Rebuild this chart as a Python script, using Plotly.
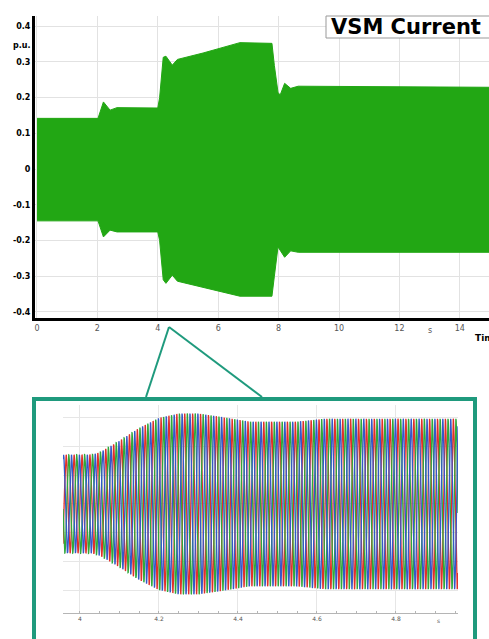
import numpy as np
import plotly.graph_objects as go

W, H = 489, 639

# ---- main chart: envelope of the three-phase VSM current (p.u.) ----
env_t = [0.0, 2.02, 2.2, 2.42, 2.65, 4.0, 4.06, 4.18, 4.27, 4.48, 4.65, 5.5, 6.72,
         7.78, 7.86, 7.98, 8.05, 8.2, 8.4, 8.65, 15.0]
env_upper = [0.142, 0.142, 0.188, 0.165, 0.172, 0.171, 0.20, 0.313, 0.316, 0.291, 0.307,
             0.325, 0.354, 0.352, 0.29, 0.215, 0.207, 0.24, 0.226, 0.232, 0.229]
env_lower = [-0.145, -0.145, -0.19, -0.171, -0.176, -0.176, -0.20, -0.31, -0.32, -0.297,
             -0.314, -0.33, -0.356, -0.356, -0.30, -0.218, -0.225, -0.247, -0.229, -0.233,
             -0.233]

main_xticks = [0, 2, 4, 6, 8, 10, 12, 14]
main_xticklabels = ["0", "2", "4", "6", "8", "10", "12", "14"]
main_yticks = [0.4, 0.3, 0.2, 0.1, 0, -0.1, -0.2, -0.3, -0.4]
main_yticklabels = ["0.4", "0.3", "0.2", "0.1", "0", "-0.1", "-0.2", "-0.3", "-0.4"]

# ---- zoomed inset: amplitude envelope of each phase ----
zoom_t = [3.957, 4.03, 4.05, 4.10, 4.15, 4.20, 4.25, 4.30, 4.35, 4.43, 4.55, 4.62, 4.957]
zoom_amp = [0.171, 0.172, 0.18, 0.22, 0.265, 0.30, 0.315, 0.315, 0.305, 0.287, 0.287,
            0.297, 0.297]
grid_freq_hz = 50.0
phase_names = ["Ia", "Ib", "Ic"]
phase_shift_deg = [0, -120, 120]
phase_colors = ["#e0302a", "#2fa83a", "#3558c8"]

zoom_xticks = [4.0, 4.2, 4.4, 4.6, 4.8]
zoom_xticklabels = ["4", "4.2", "4.4", "4.6", "4.8"]

GREEN = "#22a714"
TEAL = "#1f9a7d"


def px(x):
    return x / W


def py(y):
    return 1 - y / H


fig = go.Figure()

# main chart as filled envelope
fig.add_trace(go.Scatter(
    x=env_t + env_t[::-1],
    y=env_upper + env_lower[::-1],
    fill="toself", fillcolor=GREEN, mode="lines",
    line=dict(color=GREEN, width=1), hoverinfo="skip",
    xaxis="x", yaxis="y", showlegend=False))

# inset waveforms
ts = np.linspace(zoom_t[0], zoom_t[-1], 5000)
amp = np.interp(ts, zoom_t, zoom_amp)
for name, sh, col in zip(phase_names, phase_shift_deg, phase_colors):
    fig.add_trace(go.Scatter(
        x=ts, y=amp * np.sin(2 * np.pi * grid_freq_hz * ts + np.deg2rad(sh)),
        mode="lines", line=dict(color=col, width=1.3), name=name,
        xaxis="x2", yaxis="y2", showlegend=False, hoverinfo="skip"))

shapes = []
# inset frame
shapes.append(dict(type="rect", xref="paper", yref="paper",
                   x0=px(34), x1=px(475), y0=py(399), y1=py(700),
                   line=dict(color=TEAL, width=4), fillcolor="rgba(0,0,0,0)"))
# connector lines
shapes.append(dict(type="line", xref="paper", yref="paper",
                   x0=px(169), y0=py(327), x1=px(146), y1=py(397),
                   line=dict(color=TEAL, width=2)))
shapes.append(dict(type="line", xref="paper", yref="paper",
                   x0=px(169), y0=py(327), x1=px(262), y1=py(397),
                   line=dict(color=TEAL, width=2)))
# title box
shapes.append(dict(type="rect", xref="paper", yref="paper",
                   x0=px(326), x1=px(500), y0=py(38), y1=py(16),
                   line=dict(color="#999999", width=1), fillcolor="white"))

annotations = [
    dict(text="VSM Current", xref="paper", yref="paper", x=px(329), y=py(27),
         xanchor="left", yanchor="middle", showarrow=False,
         font=dict(family="DejaVu Sans", size=21, color="black", weight="bold")),
    dict(text="p.u.", xref="paper", yref="paper", x=px(22), y=py(45),
         xanchor="center", yanchor="middle", showarrow=False,
         font=dict(family="DejaVu Sans", size=8, color="black", weight="bold")),
    dict(text="s", xref="paper", yref="paper", x=px(430), y=py(330),
         xanchor="center", yanchor="middle", showarrow=False,
         font=dict(family="DejaVu Sans", size=8, color="#555555")),
    dict(text="Time", xref="paper", yref="paper", x=px(473), y=py(338),
         xanchor="left", yanchor="middle", showarrow=False,
         font=dict(family="DejaVu Sans", size=9, color="black", weight="bold")),
    dict(text="s", xref="paper", yref="paper", x=px(438), y=py(620),
         xanchor="center", yanchor="middle", showarrow=False,
         font=dict(family="DejaVu Sans", size=6, color="#555555")),
]

fig.update_layout(
    width=W, height=H,
    margin=dict(l=0, r=0, t=0, b=0),
    paper_bgcolor="white", plot_bgcolor="white",
    showlegend=False,
    shapes=shapes, annotations=annotations,
    xaxis=dict(domain=[px(35), 1.0], range=[-0.066, 14.967],
               tickvals=main_xticks, ticktext=main_xticklabels,
               showgrid=True, gridcolor="#e2e2e2", gridwidth=1,
               showline=True, linecolor="black", linewidth=3,
               ticks="", zeroline=False,
               tickfont=dict(family="DejaVu Sans", size=8, color="#555555"),
               anchor="y"),
    yaxis=dict(domain=[py(318), py(16)], range=[-0.417, 0.4286],
               tickvals=main_yticks, ticktext=main_yticklabels,
               showgrid=True, gridcolor="#e2e2e2", gridwidth=1,
               showline=True, linecolor="black", linewidth=3,
               ticks="", zeroline=False,
               tickfont=dict(family="DejaVu Sans", size=8, color="black", weight="bold"),
               anchor="x"),
    xaxis2=dict(domain=[px(63), px(458)], range=[3.957, 4.957],
                tickvals=zoom_xticks, ticktext=zoom_xticklabels,
                showgrid=True, gridcolor="#e6e6e6", gridwidth=1,
                showline=True, linecolor="#b5b5b5", linewidth=1,
                ticks="inside", ticklen=2, tickcolor="#b5b5b5",
                minor=dict(dtick=0.05, ticks="inside", ticklen=2, tickcolor="#b5b5b5",
                           showgrid=False),
                zeroline=False,
                tickfont=dict(family="DejaVu Sans", size=6, color="#555555"),
                anchor="y2"),
    yaxis2=dict(domain=[py(613), py(405)], range=[-0.38, 0.345],
                dtick=0.1, showticklabels=False,
                showgrid=True, gridcolor="#e6e6e6", gridwidth=1,
                showline=False, zeroline=False, ticks="",
                anchor="x2"),
)

fig.write_html("out.html")
